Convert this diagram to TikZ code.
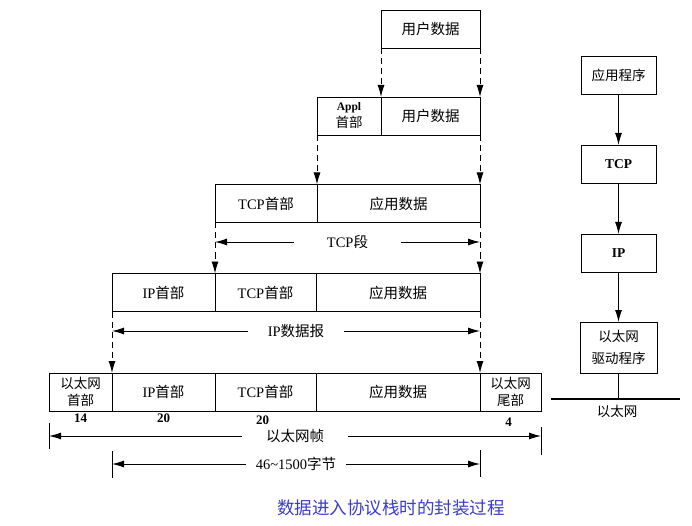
\documentclass[tikz,border=0pt]{standalone}
\usepackage{fontspec}
\setmainfont{Liberation Serif}
\newfontfamily\cjk{Noto Sans CJK SC}
\usetikzlibrary{arrows.meta, positioning}
\usepackage{xcolor}
\newcommand{\zh}[1]{{\cjk #1}}
\definecolor{capblue}{RGB}{60,60,205}

\begin{document}
\begin{tikzpicture}[x=1pt, y=-1pt, >={Latex[length=12pt, width=7pt]}, line width=0.95pt, inner sep=0pt, outer sep=0pt]
			\tikzstyle{cell} = [draw, rectangle, minimum height=38pt, font=\fontsize{14.5}{16}\selectfont]
			\tikzstyle{small} = [cell, align=center, font=\fontsize{13.5}{17}\selectfont]
			\tikzstyle{num} = [font=\bfseries\fontsize{13}{13}\selectfont]
			\tikzstyle{layer} = [draw, rectangle, minimum width=75pt, minimum height=38pt, font=\fontsize{13.5}{22}\selectfont]
			\tikzstyle{flow} = [->, dash pattern=on 6pt off 4pt]
			\tikzstyle{dimlabel} = [fill=white, inner xsep=20pt, inner ysep=2pt, font=\fontsize{14.5}{16}\selectfont]
			
			\useasboundingbox (0,0) rectangle (692,526);
			
			% encapsulation rows
			\node[cell, minimum width=99pt]		at (430.5, 29.5)	(u0)	{\zh{用户数据}};
			
			\node[small, minimum width=64pt]	at (349, 116)		(a1)	{{\bfseries\fontsize{11.5}{15}\selectfont Appl}\\\zh{首部}};
			\node[cell, minimum width=99pt]		at (430.5, 116)		(u1)	{\zh{用户数据}};
			
			\node[cell, minimum width=102pt]	at (266, 203.5)		(t2)	{TCP\zh{首部}};
			\node[cell, minimum width=163pt]	at (398.5, 203.5)	(d2)	{\zh{应用数据}};
			
			\node[cell, minimum width=103pt]	at (163.5, 292.5)	(i3)	{IP\zh{首部}};
			\node[cell, minimum width=101pt]	at (265.5, 292.5)	(t3)	{TCP\zh{首部}};
			\node[cell, minimum width=164pt]	at (398, 292.5)		(d3)	{\zh{应用数据}};
			
			\node[small, minimum width=63pt]	at (80.5, 392)		(e4)	{\zh{以太网}\\\zh{首部}};
			\node[cell, minimum width=103pt]	at (163.5, 392)		(i4)	{IP\zh{首部}};
			\node[cell, minimum width=101pt]	at (265.5, 392)		(t4)	{TCP\zh{首部}};
			\node[cell, minimum width=164pt]	at (398, 392)		(d4)	{\zh{应用数据}};
			\node[small, minimum width=61pt]	at (510.5, 392)		(f4)	{\zh{以太网}\\\zh{尾部}};
			
			\node[num, below=3pt of e4]		(n14)	{14};
			\node[num, below=3pt of i4]		(n20a)	{20};
			\node[num, below=5pt of t4, xshift=-3pt]	(n20b)	{20};
			\node[num, below=7pt of f4, xshift=-2pt]	(n4)	{4};
			
			\path[flow]
			(u0.south west)	edge	(u1.north west)
			(u0.south east)	edge	(u1.north east)
			(a1.south west)	edge	(d2.north west)
			(u1.south east)	edge	(d2.north east)
			(t2.south west)	edge	(t3.north west)
			(d2.south east)	edge	(d3.north east)
			(i3.south west)	edge	(i4.north west)
			(d3.south east)	edge	(d4.north east);
			
			% lengths
			\coordinate (tcpL) at (215, 242);	\coordinate (tcpR) at (480, 242);
			\coordinate (ipL) at (112, 331);	\coordinate (ipR) at (480, 331);
			\coordinate (frmL) at (49, 436);	\coordinate (frmR) at (541, 436);
			\coordinate (payL) at (112, 464);	\coordinate (payR) at (480, 464);
			
			\draw[<->] (tcpL) -- (tcpR) node[dimlabel, midway, inner xsep=33pt] {TCP\zh{段}};
			\draw[<->] (ipL) -- (ipR) node[dimlabel, midway] {IP\zh{数据报}};
			\draw[<->] (frmL) -- (frmR) node[dimlabel, midway, inner xsep=24pt] {\zh{以太网帧}};
			\draw[<->] (payL) -- (payR) node[dimlabel, midway, inner xsep=10pt] {46\textasciitilde1500\zh{字节}};
			\draw (49, 423) -- (49, 449);
			\draw (541, 427) -- (541, 455);
			\draw (112, 451) -- (112, 478);
			\draw (480, 450) -- (480, 477);
			
			% protocol stack
			\node[layer]			at (618.5, 75)		(app)	{\zh{应用程序}};
			\node[layer, font=\bfseries\fontsize{13.5}{16}\selectfont]	at (618.5, 164)	(tcp)	{TCP};
			\node[layer, font=\bfseries\fontsize{13.5}{16}\selectfont]	at (618.5, 253)	(ip)	{IP};
			\node[layer, minimum width=77pt, minimum height=51pt, align=center]	at (618.5, 347.5)	(drv)	{\zh{以太网}\\\zh{驱动程序}};
			\coordinate (busL) at (551, 399);	\coordinate (busR) at (680, 399);
			\draw[line width=2.5pt] (busL) -- (busR);
			\node[font=\fontsize{13.5}{16}\selectfont]	at (617, 411)	(bus)	{\zh{以太网}};
			
			\path[->]
			(app)	edge	(tcp)
			(tcp)	edge	(ip)
			(ip)	edge	(drv);
			\draw (drv.south) -- (drv.south |- busL);
			
			\node[text=capblue, font=\fontsize{17.5}{20}\selectfont]	at (391, 508)	(cap)	{\zh{数据进入协议栈时的封装过程}};
		\end{tikzpicture}
\end{document}
